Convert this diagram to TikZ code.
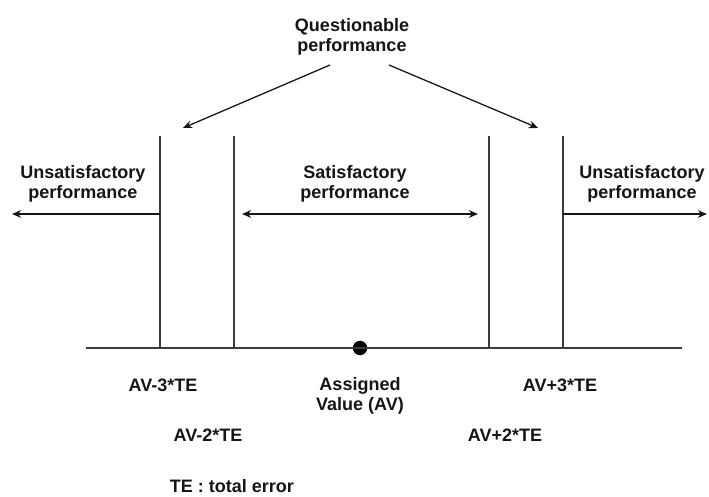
\documentclass[tikz,border=0pt]{standalone}
\usepackage{fontspec}
\setmainfont{Liberation Sans}
\usetikzlibrary{arrows.meta,positioning,calc}
\definecolor{ink}{HTML}{151515}
\definecolor{rule}{HTML}{3C3C3C}
\tikzset{
  lbl/.style={font=\fontsize{12.8}{14.6}\selectfont\bfseries,text=ink,align=center,inner sep=0pt},
  limline/.style={line width=0.9pt,color=rule},
  perfarr/.style={-{Stealth[length=6.5pt,width=5.5pt]},line width=0.9pt,color=ink},
  bothperfarr/.style={{Stealth[length=6.5pt,width=5.5pt]}-{Stealth[length=6.5pt,width=5.5pt]},line width=0.9pt,color=ink},
  avdot/.style={circle,fill=black,inner sep=0pt,minimum size=0.36cm},
}

\begin{document}
\begin{tikzpicture}[x=0.025cm,y=-0.025cm]
  \useasboundingbox (0,0) rectangle (709,497);

  % labels
  \node[lbl] (quest) at (352,37) {Questionable\\performance};
  \node[lbl] (unsl) at (83,184) {Unsatisfactory\\performance};
  \node[lbl] (sat) at (355,184) {Satisfactory\\performance};
  \node[lbl] (unsr) at (642,184) {Unsatisfactory\\performance};

  % limits
  \coordinate (m3t) at (160,136);
  \coordinate (m2t) at (234,136);
  \coordinate (p2t) at (489,136);
  \coordinate (p3t) at (563,136);
  \coordinate (m3b) at (160,348);
  \coordinate (m2b) at (234,348);
  \coordinate (p2b) at (489,348);
  \coordinate (p3b) at (563,348);
  \coordinate (axl) at (86,348);
  \coordinate (axr) at (682,348);
  \node[avdot] (av) at (360,348) {};

  \draw[limline] (axl) -- (axr);
  \draw[limline] (m3t) -- (m3b);
  \draw[limline] (m2t) -- (m2b);
  \draw[limline] (p2t) -- (p2b);
  \draw[limline] (p3t) -- (p3b);

  % arrows
  \coordinate (qls) at (330,65);
  \coordinate (qle) at (183,128);
  \coordinate (qrs) at (389,65);
  \coordinate (qre) at (538,128);
  \draw[perfarr] (qls) -- (qle);
  \draw[perfarr] (qrs) -- (qre);

  \coordinate (ulS) at (160,214);
  \coordinate (ulE) at (12,214);
  \coordinate (saS) at (242,214);
  \coordinate (saE) at (478,214);
  \coordinate (urS) at (563,214);
  \coordinate (urE) at (707,214);
  \draw[perfarr] (ulS) -- (ulE);
  \draw[bothperfarr] (saS) -- (saE);
  \draw[perfarr] (urS) -- (urE);

  % limit names
  \node[lbl] (lm3) at (163,385) {AV-3*TE};
  \node[lbl] (lm2) at (208,435) {AV-2*TE};
  \node[lbl] (lav) at (360,396) {Assigned\\Value (AV)};
  \node[lbl] (lp3) at (560,385) {AV+3*TE};
  \node[lbl] (lp2) at (505,435) {AV+2*TE};
  \node[lbl] (note) at (232,486) {TE : total error};
\end{tikzpicture}
\end{document}
